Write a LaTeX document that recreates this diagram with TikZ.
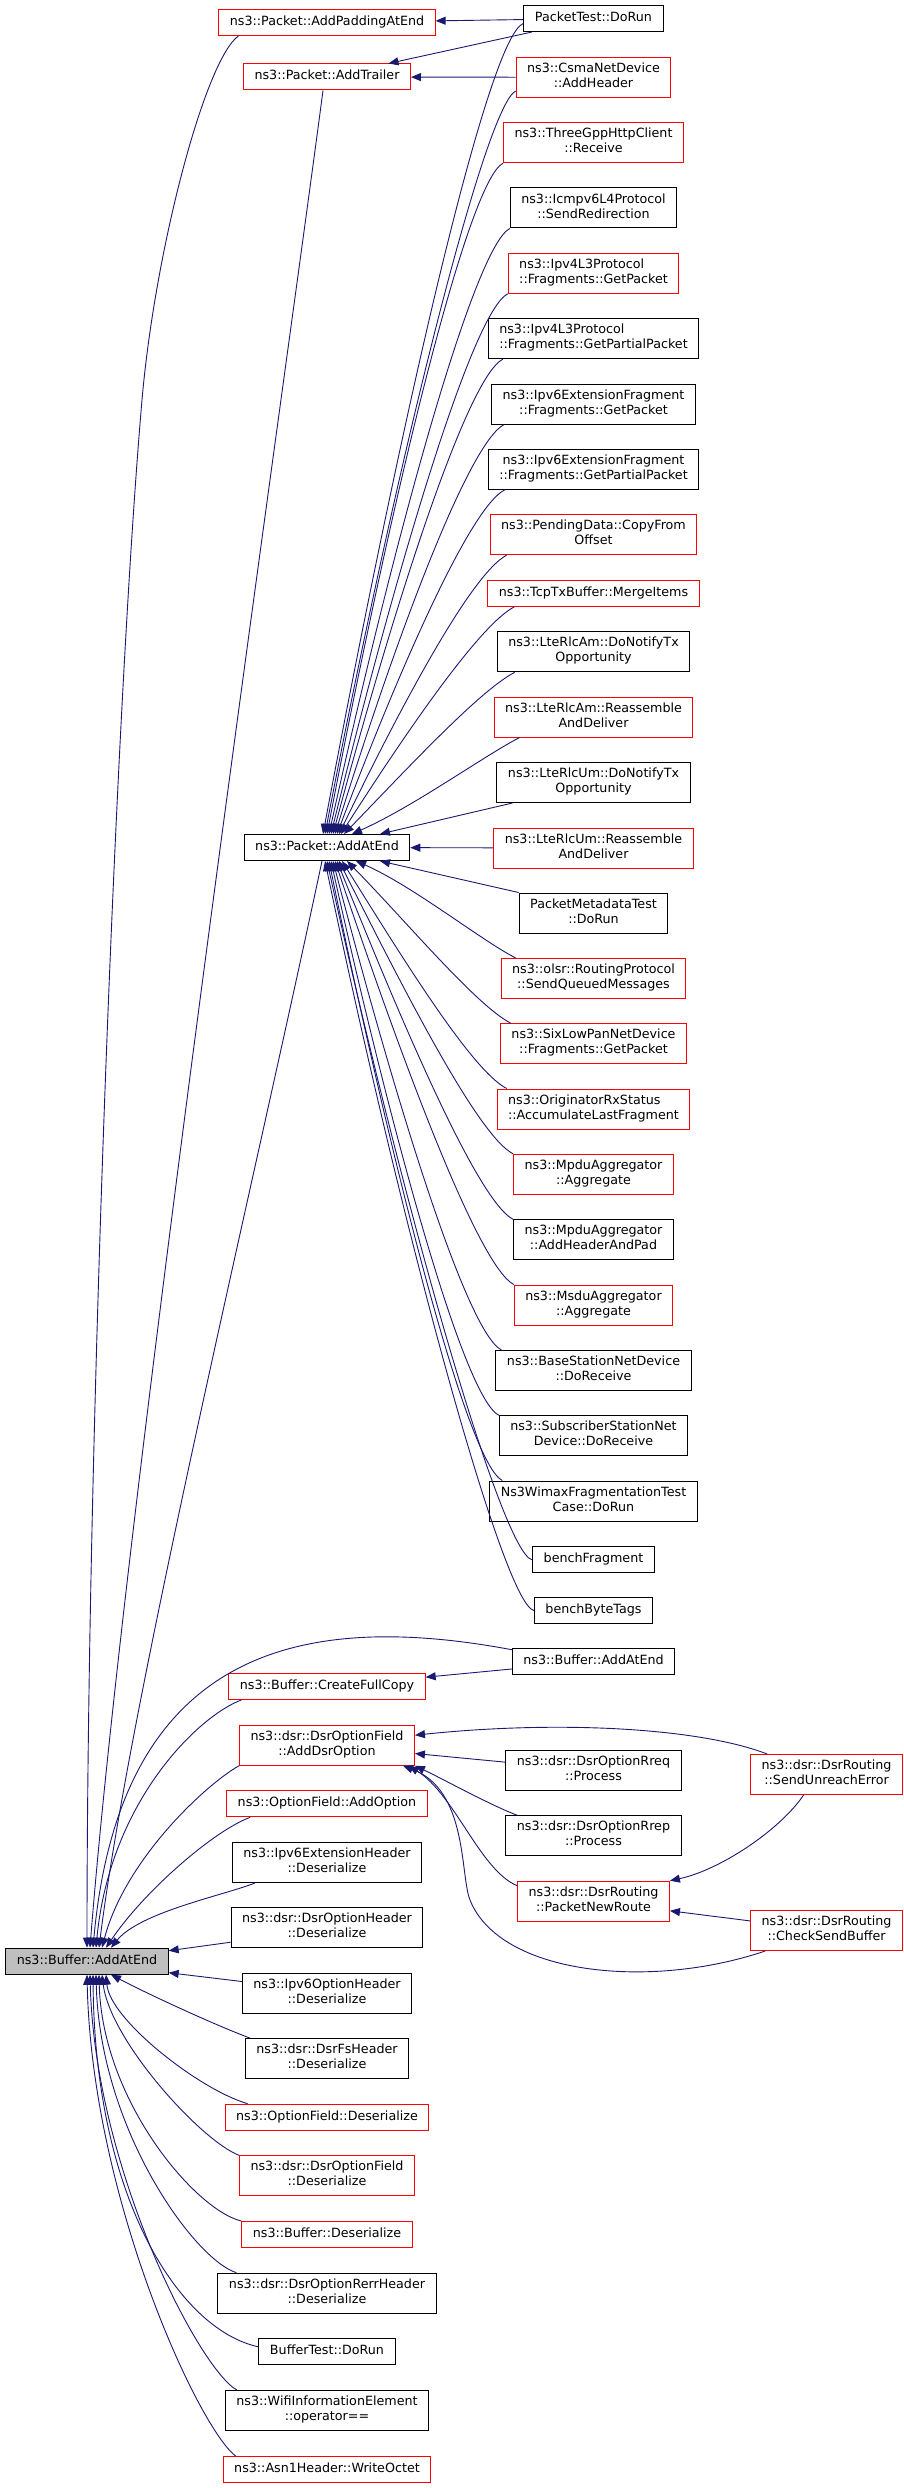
\documentclass[tikz,border=0pt]{standalone}
\usepackage{fontspec}
\setmainfont{DejaVu Sans}
\usetikzlibrary{arrows.meta}
\definecolor{edgeBlue}{HTML}{191970}
\definecolor{boxRed}{HTML}{FF0000}
\definecolor{mainGray}{HTML}{BFBFBF}
\tikzset{
  funcBox/.style={draw=black, line width=1pt, fill=white, inner xsep=11pt, inner ysep=2pt,
    minimum height=26pt, align=center, font=\fontsize{12.7}{15}\selectfont,
    execute at begin node=\strut, execute at end node=\strut},
  funcRed/.style={funcBox, draw=boxRed},
  twoLine/.style={minimum height=40pt},
  callArrow/.style={draw=edgeBlue, line width=0.9pt, -{Triangle[length=10pt,width=8pt]}}
}
\begin{document}
\begin{tikzpicture}[x=1pt,y=-1pt]
        \useasboundingbox (0,0) rectangle (904,2488);
        % the function itself
        \node[funcBox, fill=mainGray] (main) at (87,1961.2) {ns3::Buffer::AddAtEnd};
        % middle column
        \node[funcRed] (pad) at (327,22.5) {ns3::Packet::AddPaddingAtEnd};
        \node[funcRed] (trailer) at (327,77) {ns3::Packet::AddTrailer};
        \node[funcBox] (pa) at (327,847.5) {ns3::Packet::AddAtEnd};
        \node[funcRed] (copy) at (327,1686.5) {ns3::Buffer::CreateFullCopy};
        \node[funcRed, twoLine] (dsropt) at (327,1745.2) {ns3::dsr::DsrOptionField\\::AddDsrOption};
        \node[funcRed] (addopt) at (327,1803.8) {ns3::OptionField::AddOption};
        \node[funcBox, twoLine] (v6ext) at (327,1862.5) {ns3::Ipv6ExtensionHeader\\::Deserialize};
        \node[funcBox, twoLine] (dsrhdr) at (327,1927.7) {ns3::dsr::DsrOptionHeader\\::Deserialize};
        \node[funcBox, twoLine] (v6opt) at (327,1993) {ns3::Ipv6OptionHeader\\::Deserialize};
        \node[funcBox, twoLine] (fshdr) at (327,2058.5) {ns3::dsr::DsrFsHeader\\::Deserialize};
        \node[funcRed] (ofdes) at (327,2117.2) {ns3::OptionField::Deserialize};
        \node[funcRed, twoLine] (dsrfdes) at (327,2175.8) {ns3::dsr::DsrOptionField\\::Deserialize};
        \node[funcRed] (bufdes) at (327,2234.5) {ns3::Buffer::Deserialize};
        \node[funcBox, twoLine] (rerr) at (327,2293.2) {ns3::dsr::DsrOptionRerrHeader\\::Deserialize};
        \node[funcBox] (btest) at (327,2351.8) {BufferTest::DoRun};
        \node[funcBox, twoLine] (wifi) at (327,2410.5) {ns3::WifiInformationElement\\::operator==};
        \node[funcRed] (asn) at (327,2469.5) {ns3::Asn1Header::WriteOctet};
        % right column
        \node[funcBox] (ptest) at (593.5,18.5) {PacketTest::DoRun};
        \node[funcRed, twoLine] (csma) at (593.5,77.3) {ns3::CsmaNetDevice\\::AddHeader};
        \node[funcRed, twoLine] (tgpp) at (593.5,142.7) {ns3::ThreeGppHttpClient\\::Receive};
        \node[funcBox, twoLine] (icmp) at (593.5,208) {ns3::Icmpv6L4Protocol\\::SendRedirection};
        \node[funcRed, twoLine, align=left] (v4get) at (593.5,273.3) {ns3::Ipv4L3Protocol\\::Fragments::GetPacket};
        \node[funcBox, twoLine, align=left] (v4part) at (593.5,338.7) {ns3::Ipv4L3Protocol\\::Fragments::GetPartialPacket};
        \node[funcBox, twoLine] (v6get) at (593.5,404) {ns3::Ipv6ExtensionFragment\\::Fragments::GetPacket};
        \node[funcBox, twoLine] (v6part) at (593.5,469.3) {ns3::Ipv6ExtensionFragment\\::Fragments::GetPartialPacket};
        \node[funcRed, twoLine] (pend) at (593.5,534.7) {ns3::PendingData::CopyFrom\\Offset};
        \node[funcRed] (tcptx) at (593.5,593.3) {ns3::TcpTxBuffer::MergeItems};
        \node[funcBox, twoLine] (amnot) at (593.5,651.8) {ns3::LteRlcAm::DoNotifyTx\\Opportunity};
        \node[funcRed, twoLine] (amreas) at (593.5,717) {ns3::LteRlcAm::Reassemble\\AndDeliver};
        \node[funcBox, twoLine] (umnot) at (593.5,782.5) {ns3::LteRlcUm::DoNotifyTx\\Opportunity};
        \node[funcRed, twoLine] (umreas) at (593.5,848) {ns3::LteRlcUm::Reassemble\\AndDeliver};
        \node[funcBox, twoLine] (pmeta) at (593.5,913) {PacketMetadataTest\\::DoRun};
        \node[funcRed, twoLine] (olsr) at (593.5,978.5) {ns3::olsr::RoutingProtocol\\::SendQueuedMessages};
        \node[funcRed, twoLine] (sixlow) at (593.5,1043.8) {ns3::SixLowPanNetDevice\\::Fragments::GetPacket};
        \node[funcRed, twoLine, align=left] (orig) at (593.5,1109) {ns3::OriginatorRxStatus\\::AccumulateLastFragment};
        \node[funcRed, twoLine] (mpdu) at (593.5,1174.3) {ns3::MpduAggregator\\::Aggregate};
        \node[funcBox, twoLine] (mpduhdr) at (593.5,1239.8) {ns3::MpduAggregator\\::AddHeaderAndPad};
        \node[funcRed, twoLine] (msdu) at (593.5,1305) {ns3::MsduAggregator\\::Aggregate};
        \node[funcBox, twoLine] (bsnd) at (593.5,1370.5) {ns3::BaseStationNetDevice\\::DoReceive};
        \node[funcBox, twoLine] (ssnd) at (593.5,1435.8) {ns3::SubscriberStationNet\\Device::DoReceive};
        \node[funcBox, twoLine] (wimax) at (593.5,1501) {Ns3WimaxFragmentationTest\\Case::DoRun};
        \node[funcBox] (bfrag) at (593.5,1559.8) {benchFragment};
        \node[funcBox] (btags) at (593.5,1610.5) {benchByteTags};
        \node[funcBox] (bufr) at (593.5,1661.2) {ns3::Buffer::AddAtEnd};
        \node[funcBox, twoLine] (rreq) at (593.5,1770.5) {ns3::dsr::DsrOptionRreq\\::Process};
        \node[funcBox, twoLine] (rrep) at (593.5,1835.8) {ns3::dsr::DsrOptionRrep\\::Process};
        \node[funcRed, twoLine] (newroute) at (593.5,1901.2) {ns3::dsr::DsrRouting\\::PacketNewRoute};
        \node[funcRed, twoLine] (unreach) at (826.6,1774.5) {ns3::dsr::DsrRouting\\::SendUnreachError};
        \node[funcRed, twoLine] (checkbuf) at (826.6,1930.5) {ns3::dsr::DsrRouting\\::CheckSendBuffer};

        % callers of Packet::AddPaddingAtEnd and Packet::AddTrailer
        \draw[callArrow] (ptest) -- (pad);
        \draw[callArrow] (ptest) -- (trailer);
        \draw[callArrow] (csma) -- (trailer);
        % callers of Packet::AddAtEnd, from above
        \draw[callArrow] (ptest.184) .. controls +(-35,12) and +(79,-421) .. ([xshift=-4pt]pa.north);
        \draw[callArrow] (csma.190) .. controls +(-30,15) and +(74,-384) .. ([xshift=-2pt]pa.north);
        \draw[callArrow] (tgpp.south west) .. controls +(-35,18) and +(66,-344) .. (pa.north);
        \draw[callArrow] (icmp.south west) .. controls +(-35,18) and +(68,-308) .. ([xshift=2pt]pa.north);
        \draw[callArrow] (v4get.south west) .. controls +(-35,18) and +(67,-272) .. ([xshift=4pt]pa.north);
        \draw[callArrow] ([xshift=15pt]v4part.south west) .. controls +(-35,18) and +(63,-236) .. ([xshift=6pt]pa.north);
        \draw[callArrow] ([xshift=13pt]v6get.south west) .. controls +(-35,18) and +(62,-200) .. ([xshift=8pt]pa.north);
        \draw[callArrow] ([xshift=17pt]v6part.south west) .. controls +(-35,18) and +(62,-164) .. ([xshift=10pt]pa.north);
        \draw[callArrow] ([xshift=17pt]pend.south west) .. controls +(-35,18) and +(62,-128) .. ([xshift=12pt]pa.north);
        \draw[callArrow] ([xshift=27pt]tcptx.south west) .. controls +(-35,18) and +(64,-100) .. ([xshift=14pt]pa.north);
        \draw[callArrow] ([xshift=18pt]amnot.south west) .. controls +(-35,18) and +(62,-64) .. ([xshift=17pt]pa.north);
        \draw[callArrow] ([xshift=26pt]amreas.south west) .. controls +(-35,18) and +(61,-27) .. ([xshift=25pt]pa.north);
        \draw[callArrow] ([xshift=16pt]umnot.south west) -- ([xshift=53pt]pa.north);
        \draw[callArrow] (umreas) -- (pa);
        % callers of Packet::AddAtEnd, from below
        \draw[callArrow] (pmeta.north west) -- ([xshift=53pt]pa.south);
        \draw[callArrow] ([xshift=15pt]olsr.north west) .. controls +(-35,-18) and +(57,25) .. ([xshift=29pt]pa.south);
        \draw[callArrow] ([xshift=11pt]sixlow.north west) .. controls +(-35,-18) and +(59,60) .. ([xshift=20pt]pa.south);
        \draw[callArrow] ([xshift=10pt]orig.north west) .. controls +(-35,-18) and +(60,96) .. ([xshift=15pt]pa.south);
        \draw[callArrow] (mpdu.north west) .. controls +(-35,-18) and +(66,131) .. ([xshift=12pt]pa.south);
        \draw[callArrow] (mpduhdr.north west) .. controls +(-35,-18) and +(67,167) .. ([xshift=10pt]pa.south);
        \draw[callArrow] (msdu.north west) .. controls +(-35,-18) and +(68,203) .. ([xshift=8pt]pa.south);
        \draw[callArrow] ([xshift=6pt]bsnd.north west) .. controls +(-35,-18) and +(62,239) .. ([xshift=6pt]pa.south);
        \draw[callArrow] (ssnd.north west) .. controls +(-35,-18) and +(61,275) .. ([xshift=4pt]pa.south);
        \draw[callArrow] ([xshift=13pt]wimax.north west) .. controls +(-35,-18) and +(64,311) .. ([xshift=2pt]pa.south);
        \draw[callArrow] (bfrag.west) .. controls +(-30,-6) and +(77,351) .. (pa.south);
        \draw[callArrow] (btags.west) .. controls +(-30,-6) and +(79,379) .. ([xshift=-2pt]pa.south);

        % callers of Buffer::AddAtEnd, from above
        \draw[callArrow] ([xshift=20pt]pad.south west) .. controls (205,60) and (155,250) .. (142,400)
          .. controls (116,700) and (87,1446) .. (main.north);
        \draw[callArrow] ([xshift=-4pt]trailer.south) .. controls (285,380) and (125,1500) .. ([xshift=3pt]main.north);
        \draw[callArrow] ([xshift=-5pt]pa.south) .. controls (250,1200) and (130,1700) .. ([xshift=12pt]main.north);
        \draw[callArrow] ([yshift=-2pt]bufr.north west) .. controls (300,1610) and (120,1650) .. ([xshift=6pt]main.north);
        \draw[callArrow] (bufr) -- (copy);
        \draw[callArrow] ([xshift=13pt]copy.south west) .. controls (200,1715) and (110,1800) .. ([xshift=9pt]main.north);
        \draw[callArrow] (dsropt.south west) .. controls (205,1785) and (125,1860) .. ([xshift=15pt]main.north);
        \draw[callArrow] ([xshift=24pt]addopt.south west) .. controls (215,1830) and (145,1890) .. ([xshift=19pt]main.north);
        \draw[callArrow] ([xshift=23pt]v6ext.south west) .. controls (225,1895) and (140,1912) .. ([xshift=24pt]main.north);
        % from the side
        \draw[callArrow] ([yshift=6pt]dsrhdr.south west) -- ([yshift=-3pt]main.north east);
        \draw[callArrow] ([yshift=-9pt]v6opt.north west) -- ([yshift=2pt]main.south east);
        % from below
        \draw[callArrow] ([xshift=5pt]fshdr.north west) .. controls (215,2025) and (150,1995) .. ([xshift=24pt]main.south);
        \draw[callArrow] ([xshift=23pt]ofdes.north west) .. controls (200,2090) and (110,2020) .. ([xshift=19pt]main.south);
        \draw[callArrow] (dsrfdes.north west) .. controls (200,2140) and (110,2040) .. ([xshift=15pt]main.south);
        \draw[callArrow] (bufdes.north west) .. controls (195,2210) and (102,2100) .. ([xshift=12pt]main.south);
        \draw[callArrow] ([xshift=19pt]rerr.north west) .. controls (195,2260) and (100,2130) .. ([xshift=9pt]main.south);
        \draw[callArrow] ([yshift=5pt]btest.west) .. controls (180,2330) and (95,2200) .. ([xshift=6pt]main.south);
        \draw[callArrow] ([xshift=12pt]wifi.north west) .. controls (200,2370) and (95,2170) .. ([xshift=3pt]main.south);
        \draw[callArrow] ([xshift=13pt]asn.north west) .. controls (200,2430) and (92,2200) .. (main.south);

        % dsr callers
        \draw[callArrow] ([xshift=17pt]unreach.north west) .. controls (700,1728) and (560,1720) .. ([yshift=10pt]dsropt.east);
        \draw[callArrow] (rreq) -- (dsropt);
        \draw[callArrow] ([xshift=12pt]rrep.north west) .. controls (490,1805) and (445,1780) .. (dsropt.south east);
        \draw[callArrow] ([yshift=-5pt]newroute.north west) .. controls (480,1870) and (455,1795) .. ([xshift=-6pt]dsropt.south east);
        \draw[callArrow] ([xshift=15pt]checkbuf.south west) .. controls (650,1990) and (500,1975) .. (470,1900)
          .. controls (460,1875) and (468,1790) .. ([xshift=-12pt]dsropt.south east);
        \draw[callArrow] ([xshift=-23pt]unreach.south) .. controls (780,1830) and (720,1870) .. (newroute.north east);
        \draw[callArrow] (checkbuf) -- (newroute);
      \end{tikzpicture}
\end{document}
